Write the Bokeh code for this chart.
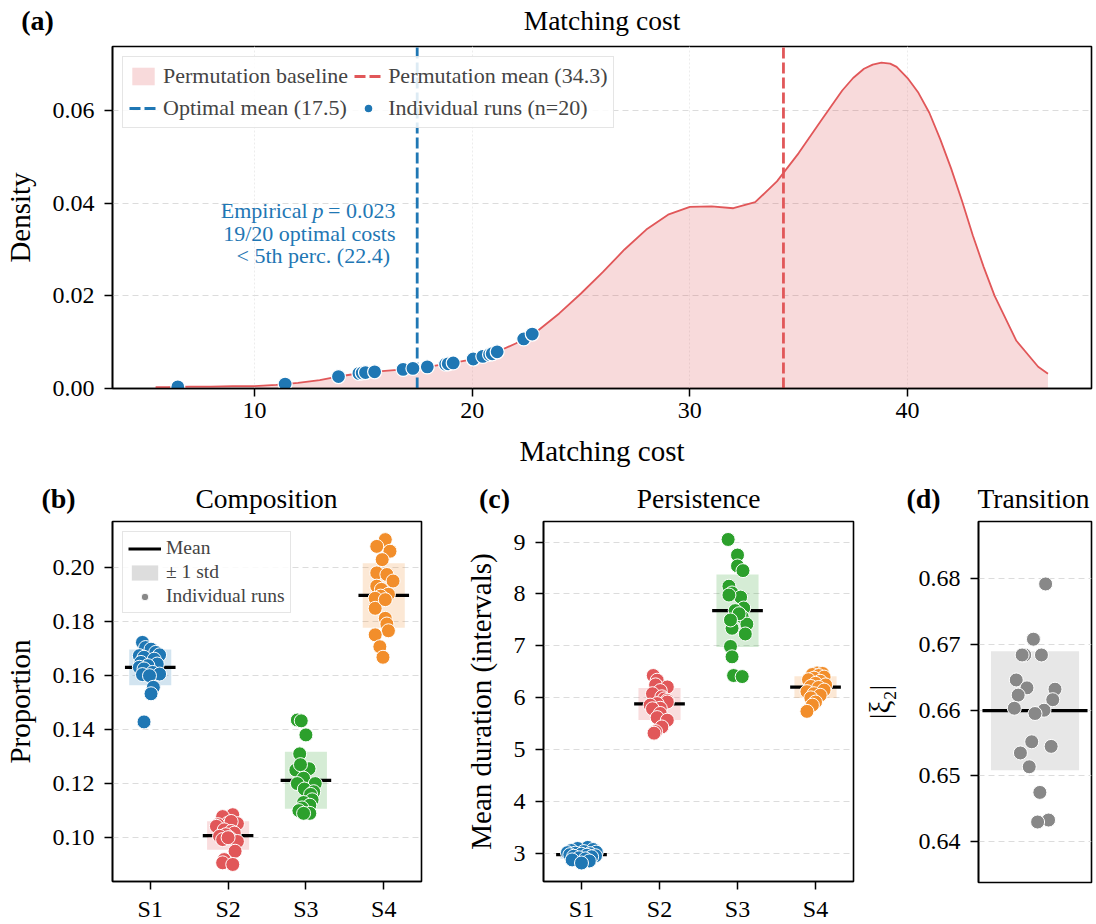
import numpy as np
from bokeh.plotting import figure
from bokeh.layouts import column, row
from bokeh.models import (Range1d, Legend, LegendItem, FixedTicker, NumeralTickFormatter)
from bokeh.embed import file_html
from bokeh.resources import INLINE
from bokeh.core.properties import value

FONT = "Liberation Serif"
BLUE = "#1f77b4"
RED = "#e15759"
GREEN = "#2ca02c"
ORANGE = "#f28e2b"
GRAY = "#888888"

# ---------------- data ----------------
kde_cost = [5.46, 6, 7, 8, 9, 10, 11, 12, 13, 14, 15, 16, 17, 18, 19, 20, 21, 22, 23, 24,
            25, 26, 27, 28, 29, 30, 31, 32, 33, 34, 35, 36, 37, 37.5, 38, 38.4, 38.8, 39.2,
            39.5, 40, 40.5, 41, 41.5, 42, 42.5, 43, 43.5, 44, 45, 46, 46.45]
kde_density = [0.0003, 0.0003, 0.0004, 0.0004, 0.0005, 0.0005, 0.0008, 0.0012, 0.0018, 0.0027,
               0.0034, 0.0038, 0.0042, 0.0047, 0.0054, 0.0063, 0.0076, 0.0097, 0.0124, 0.0162,
               0.0205, 0.0251, 0.0300, 0.0343, 0.0375, 0.0392, 0.0393, 0.0389, 0.0402, 0.0447,
               0.0508, 0.0576, 0.0643, 0.0670, 0.0690, 0.0699, 0.0703, 0.0701, 0.0694, 0.0670,
               0.0638, 0.0595, 0.0538, 0.0475, 0.0405, 0.0330, 0.0262, 0.0200, 0.0103, 0.0047,
               0.0032]
run_costs = [6.48, 11.41, 13.86, 14.80, 14.95, 15.10, 15.52, 16.83, 17.28, 17.94,
             18.78, 18.90, 19.13, 20.05, 20.49, 20.80, 20.92, 21.15, 22.37, 22.76]
perm_mean = 34.3
perc5 = 22.4
p_value = 0.023

states = ["S1", "S2", "S3", "S4"]
panel_titles = ["Matching cost", "Composition", "Persistence", "Transition"]
panel_tags = ["(a)", "(b)", "(c)", "(d)"]

comp_s1 = [0.1722, 0.1703, 0.1697, 0.1685, 0.1676, 0.1673, 0.1667, 0.1660, 0.1648, 0.1642,
           0.1636, 0.1630, 0.1624, 0.1611, 0.1605, 0.1603, 0.1599, 0.1556, 0.1532, 0.1428]
comp_s2 = [0.1085, 0.1078, 0.1054, 0.1052, 0.1048, 0.1042, 0.1060, 0.1029, 0.1023, 0.1017,
           0.1011, 0.1005, 0.0999, 0.0993, 0.0986, 0.1000, 0.0950, 0.0919, 0.0907, 0.0901]
comp_s3 = [0.1435, 0.1432, 0.1380, 0.1310, 0.1255, 0.1250, 0.1220, 0.1200, 0.1200, 0.1180,
           0.1170, 0.1160, 0.1140, 0.1130, 0.1120, 0.1110, 0.1100, 0.1090, 0.1090, 0.1270]
comp_s4 = [0.2102, 0.2077, 0.2059, 0.2028, 0.1979, 0.1973, 0.1949, 0.1930, 0.1918, 0.1900,
           0.1893, 0.1885, 0.1848, 0.1811, 0.1790, 0.1765, 0.1750, 0.1706, 0.1667, 0.1880]
comp_jit_s1 = [-0.10, -0.06, 0.01, 0.07, 0.12, -0.14, -0.08, 0.05, -0.12, 0.09,
               -0.03, -0.14, -0.08, 0.03, 0.12, -0.10, -0.01, 0.04, 0.01, -0.08]
comp_jit_s2 = [0.06, -0.07, 0.00, 0.12, -0.13, -0.15, 0.04, -0.05, 0.04, 0.08,
               -0.03, -0.11, 0.02, -0.07, 0.12, 0.00, 0.09, -0.05, -0.07, 0.06]
comp_jit_s3 = [-0.11, -0.06, 0.00, -0.08, 0.04, -0.13, -0.03, -0.11, 0.12, -0.02,
               0.10, 0.06, 0.08, -0.03, 0.05, -0.05, -0.09, 0.05, -0.03, -0.07]
comp_jit_s4 = [0.02, -0.09, 0.08, -0.02, -0.09, 0.04, 0.12, -0.09, -0.03, 0.06,
               -0.04, -0.11, -0.11, 0.02, 0.04, 0.06, -0.11, -0.05, -0.01, 0.02]

dur_s1 = [3.12, 3.10, 3.08, 3.06, 3.04, 3.03, 3.02, 3.01, 3.00, 2.99,
          2.98, 2.97, 2.96, 2.95, 2.94, 2.92, 2.90, 2.88, 2.86, 2.82]
dur_s2 = [6.43, 6.34, 6.25, 6.21, 6.14, 6.08, 6.02, 5.98, 5.95, 5.92,
          5.89, 5.86, 5.80, 5.79, 5.70, 5.62, 5.57, 5.44, 5.35, 5.32]
dur_s3 = [9.05, 8.75, 8.54, 8.45, 8.15, 8.02, 7.94, 7.73, 7.68, 7.56,
          7.42, 7.34, 7.23, 6.99, 6.79, 6.43, 6.41, 7.62, 7.98, 7.50]
dur_s4 = [6.48, 6.47, 6.45, 6.43, 6.40, 6.38, 6.35, 6.32, 6.28, 6.25,
          6.22, 6.20, 6.15, 6.12, 6.08, 6.05, 6.00, 5.92, 5.86, 5.74]
dur_jit_s1 = [0.08, -0.05, 0.15, -0.13, 0.03, 0.19, -0.18, -0.08, 0.11, 0.00,
              -0.15, 0.07, 0.18, -0.10, 0.13, -0.03, 0.05, -0.12, 0.10, 0.00]
dur_jit_s2 = [-0.08, -0.03, -0.05, 0.10, 0.01, -0.09, 0.03, 0.06, 0.10, 0.10,
              -0.03, -0.12, 0.01, -0.09, 0.01, -0.03, 0.10, 0.03, -0.05, -0.07]
dur_jit_s3 = [-0.12, 0.00, 0.00, 0.07, -0.11, -0.07, 0.04, 0.08, -0.03, 0.06,
              0.12, -0.07, 0.10, -0.09, -0.07, -0.05, 0.06, 0.02, -0.11, -0.09]
dur_jit_s4 = [0.02, 0.09, -0.04, 0.04, 0.11, -0.02, -0.09, 0.06, 0.00, 0.13,
              -0.06, 0.04, 0.11, -0.11, -0.02, 0.06, -0.06, 0.00, -0.04, -0.11]

xi2 = [0.6792, 0.6708, 0.6684, 0.6684, 0.6684, 0.6646, 0.6634, 0.6632, 0.6623, 0.6616,
       0.6603, 0.6600, 0.6595, 0.6552, 0.6545, 0.6535, 0.6514, 0.6475, 0.6433, 0.6430]
xi2_jit = [0.094, -0.014, -0.091, 0.057, -0.114, -0.166, -0.071, 0.177, -0.149, 0.157,
           -0.183, 0.080, 0.000, -0.029, 0.143, -0.129, -0.051, 0.043, 0.120, 0.023]


# ---------------- helpers ----------------
def style(p, xlabel_standoff=12, ylabel_standoff=14):
    p.frame_align = False
    p.background_fill_color = "white"
    p.border_fill_color = "white"
    p.outline_line_color = "black"
    p.outline_line_width = 1.6
    p.outline_line_alpha = 1.0
    for ax in p.axis:
        ax.axis_line_color = "black"
        ax.axis_line_width = 1.6
        ax.major_tick_line_color = "black"
        ax.major_tick_line_width = 1.5
        ax.major_tick_out = 8
        ax.major_tick_in = 0
        ax.minor_tick_line_color = None
        ax.major_label_text_font = FONT
        ax.major_label_text_font_size = "24px"
        ax.major_label_text_color = "black"
        ax.axis_label_text_font = FONT
        ax.axis_label_text_font_size = "29px"
        ax.axis_label_text_font_style = "normal"
        ax.axis_label_text_color = "black"
    p.xaxis.major_label_standoff = 6
    p.yaxis.major_label_standoff = 10
    p.xaxis.axis_label_standoff = xlabel_standoff
    p.yaxis.axis_label_standoff = ylabel_standoff


def ygrid_dashed(p):
    p.xgrid.grid_line_color = None
    p.ygrid.grid_line_color = "#dcdcdc"
    p.ygrid.grid_line_dash = "6 4"
    p.ygrid.grid_line_width = 1


def heading_strip(height, tags, tag_x, titles, title_x, mid):
    """A thin canvas holding panel tags (bold) and panel titles, in pixel coordinates."""
    s = figure(width=1096, height=height, output_backend="svg", toolbar_location=None,
               x_range=Range1d(0, 1096), y_range=Range1d(height, 0),
               x_axis_type=None, y_axis_type=None, title_location=None)
    s.frame_align = False
    s.min_border_left = s.min_border_right = s.min_border_top = s.min_border_bottom = 0
    s.outline_line_color = None
    s.background_fill_color = "white"
    s.border_fill_color = "white"
    s.text(x=tag_x, y=[mid] * len(tags), text=tags, text_font=value(FONT),
           text_font_size="28px", text_font_style="bold", text_align="center",
           text_baseline="middle", text_color="black")
    s.text(x=title_x, y=[mid] * len(titles), text=titles, text_font=value(FONT),
           text_font_size="27.5px", text_align="center", text_baseline="middle",
           text_color="black")
    return s


# ---------------- (a) matching cost ----------------
strip_a = heading_strip(40, panel_tags[:1], [37], panel_titles[:1], [601.5], 20)

pa = figure(width=1096, height=430, output_backend="svg", toolbar_location=None,
            title_location=None, x_range=Range1d(3.48, 48.45), y_range=Range1d(0, 0.0738),
            x_axis_label="Matching cost", y_axis_label="Density")
pa.min_border_left = 112
pa.min_border_right = 5
pa.min_border_top = 6
pa.min_border_bottom = 82
style(pa, xlabel_standoff=14)
pa.xaxis.ticker = FixedTicker(ticks=[10, 20, 30, 40])
pa.yaxis.ticker = FixedTicker(ticks=[0, 0.02, 0.04, 0.06])
pa.yaxis.formatter = NumeralTickFormatter(format="0.00")
pa.xgrid.grid_line_color = "#ececec"
pa.xgrid.grid_line_dash = "2 2"
pa.ygrid.grid_line_color = "#dcdcdc"
pa.ygrid.grid_line_dash = "6 4"

r_fill = pa.varea(x=kde_cost, y1=0, y2=kde_density, fill_color=RED, fill_alpha=0.22)
pa.line(kde_cost, kde_density, line_color=RED, line_width=1.8)
opt_mean = float(np.mean(run_costs))
r_perm = pa.segment(x0=[perm_mean], x1=[perm_mean], y0=[0], y1=[1], line_color=RED,
                    line_width=2.8, line_dash="11 4")
r_opt = pa.segment(x0=[opt_mean], x1=[opt_mean], y0=[0], y1=[1], line_color=BLUE,
                   line_width=2.8, line_dash="11 4")
run_dens = np.interp(run_costs, kde_cost, kde_density)
r_runs = pa.scatter(run_costs, run_dens, size=14, fill_color=BLUE, line_color="white",
                    line_width=1.2)

n_below = int(np.sum(np.array(run_costs) < perc5))
ann = dict(text_font=value(FONT), text_font_size="22px", text_color=BLUE,
           text_align="right", text_baseline="middle")
pa.text(x=[16.48], y=[0.0384], text=[f"= {p_value:.3f}"], **ann)
pa.text(x=[16.48], y=[0.0384], text=["p"], x_offset=-72, text_font_style="italic", **ann)
pa.text(x=[16.48], y=[0.0384], text=["Empirical"], x_offset=-88, **ann)
pa.text(x=[16.48], y=[0.0334], text=[f"{n_below}/{len(run_costs)} optimal costs"], **ann)
pa.text(x=[16.48], y=[0.0287], text=[f"<  5th perc. ({perc5:.1f})"], **ann)

leg_a = Legend(items=[
    LegendItem(label="Permutation baseline", renderers=[r_fill]),
    LegendItem(label=f"Optimal mean ({opt_mean:.1f})", renderers=[r_opt]),
    LegendItem(label=f"Permutation mean ({perm_mean:.1f})", renderers=[r_perm]),
    LegendItem(label=f"Individual runs (n={len(run_costs)})", renderers=[r_runs]),
], location="top_left", ncols=2)
leg_a.label_text_font = FONT
leg_a.label_text_font_size = "22px"
leg_a.glyph_width = 28
leg_a.glyph_height = 22
leg_a.label_height = 22
leg_a.label_standoff = 6
leg_a.padding = 6
leg_a.spacing = 6
leg_a.margin = 10
leg_a.border_line_color = "#cccccc"
leg_a.border_line_width = 1
leg_a.background_fill_alpha = 0.85
pa.add_layout(leg_a)


# ---------------- strip plot helper ----------------
def strip(p, vals_list, jit_list, colors, box_half=0.27, line_half=0.325):
    means = [float(np.mean(v)) for v in vals_list]
    stds = [float(np.std(v)) for v in vals_list]
    xs = list(range(len(vals_list)))
    for i in xs:
        p.quad(left=[i - box_half], right=[i + box_half], bottom=[means[i] - stds[i]],
               top=[means[i] + stds[i]], fill_color=colors[i], fill_alpha=0.2, line_color=None)
    r_mean = p.segment(x0=[i - line_half for i in xs], x1=[i + line_half for i in xs],
                       y0=means, y1=means, line_color="black", line_width=3.2)
    for i in xs:
        p.scatter([i + j for j in jit_list[i]], vals_list[i], size=14, fill_color=colors[i],
                  line_color="white", line_width=1.0)
    return r_mean


colors4 = [BLUE, RED, GREEN, ORANGE]
BOTTOM_H = 405

# ---------------- (b) composition ----------------
pb = figure(width=440, height=BOTTOM_H, output_backend="svg", toolbar_location=None,
            title_location=None, x_range=Range1d(-0.485, 3.485),
            y_range=Range1d(0.0838, 0.2169), y_axis_label="Proportion")
pb.min_border_left = 111
pb.min_border_right = 19
pb.min_border_top = 2
pb.min_border_bottom = 42
style(pb)
pb.xaxis.ticker = FixedTicker(ticks=[0, 1, 2, 3])
pb.xaxis.major_label_overrides = {i: s for i, s in enumerate(states)}
pb.yaxis.ticker = FixedTicker(ticks=[0.10, 0.12, 0.14, 0.16, 0.18, 0.20])
pb.yaxis.formatter = NumeralTickFormatter(format="0.00")
ygrid_dashed(pb)
r_mean_b = strip(pb, [comp_s1, comp_s2, comp_s3, comp_s4],
                 [comp_jit_s1, comp_jit_s2, comp_jit_s3, comp_jit_s4], colors4)
d_std = pb.quad(left=[np.nan], right=[np.nan], top=[np.nan], bottom=[np.nan],
                fill_color="#dddddd", line_color=None)
d_pt = pb.scatter(x=[np.nan], y=[np.nan], size=10, fill_color=GRAY, line_color="white",
                  line_width=1)
leg_b = Legend(items=[
    LegendItem(label="Mean", renderers=[r_mean_b]),
    LegendItem(label="± 1 std", renderers=[d_std]),
    LegendItem(label="Individual runs", renderers=[d_pt]),
], location="top_left")
leg_b.label_text_font = FONT
leg_b.label_text_font_size = "19.5px"
leg_b.glyph_width = 33
leg_b.glyph_height = 19
leg_b.label_height = 19
leg_b.label_standoff = 5
leg_b.padding = 5
leg_b.spacing = 2
leg_b.margin = 10
leg_b.border_line_color = "#cccccc"
leg_b.border_line_width = 1.5
leg_b.background_fill_alpha = 0.85
pb.add_layout(leg_b)

# ---------------- (c) persistence ----------------
pc = figure(width=420, height=BOTTOM_H, output_backend="svg", toolbar_location=None,
            title_location=None, x_range=Range1d(-0.487, 3.487),
            y_range=Range1d(2.464, 9.396), y_axis_label="Mean duration (intervals)")
pc.min_border_left = 103
pc.min_border_right = 7
pc.min_border_top = 2
pc.min_border_bottom = 42
style(pc)
pc.xaxis.ticker = FixedTicker(ticks=[0, 1, 2, 3])
pc.xaxis.major_label_overrides = {i: s for i, s in enumerate(states)}
pc.yaxis.ticker = FixedTicker(ticks=[3, 4, 5, 6, 7, 8, 9])
ygrid_dashed(pc)
strip(pc, [dur_s1, dur_s2, dur_s3, dur_s4],
      [dur_jit_s1, dur_jit_s2, dur_jit_s3, dur_jit_s4], colors4)

# ---------------- (d) transition ----------------
pd_ = figure(width=236, height=BOTTOM_H, output_backend="svg", toolbar_location=None,
             title_location=None, x_range=Range1d(-0.5, 0.5),
             y_range=Range1d(0.6338, 0.6887), y_axis_label="|ξ₂|")
pd_.min_border_left = 115
pd_.min_border_right = 5
pd_.min_border_top = 2
pd_.min_border_bottom = 42
style(pd_, ylabel_standoff=20)
pd_.xaxis.visible = False
pd_.yaxis.ticker = FixedTicker(ticks=[0.64, 0.65, 0.66, 0.67, 0.68])
pd_.yaxis.formatter = NumeralTickFormatter(format="0.00")
ygrid_dashed(pd_)
strip(pd_, [xi2], [xi2_jit], [GRAY], box_half=0.39, line_half=0.465)

strip_b = heading_strip(49, panel_tags[1:], [58, 494, 923], panel_titles[1:],
                        [266, 698, 1033], 28)

layout = column(strip_a, pa, strip_b, row(pb, pc, pd_, spacing=0), spacing=0)
open("out.html", "w").write(file_html(layout, INLINE))
